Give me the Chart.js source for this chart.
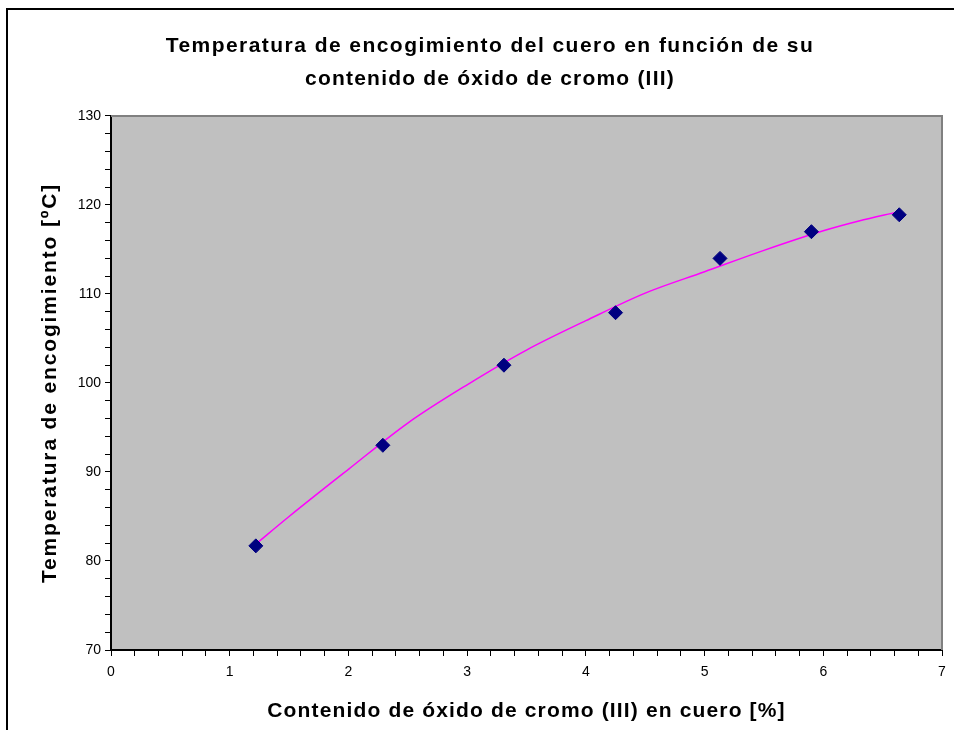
<!DOCTYPE html>
<html><head><meta charset="utf-8">
<script src="https://cdn.jsdelivr.net/npm/chart.js@4.4.1/dist/chart.umd.min.js"></script>
<style>html,body{margin:0;padding:0;background:#fff}#wrap{width:954px;height:730px;position:relative}</style>
</head><body><div id="wrap"><canvas id="c" width="954" height="730"></canvas></div>
<script>
const chromeOxide = [1.22, 2.29, 3.31, 4.25, 5.13, 5.90, 6.64];
const shrinkTemp = [81.7, 93.0, 102.0, 107.9, 114.0, 117.0, 118.9];
const trendX = [1.22, 1.5, 2.0, 2.5, 3.0, 3.5, 4.0, 4.5, 5.0, 5.5, 6.0, 6.3, 6.62];
const trendY = [81.9, 85.0, 90.3, 95.5, 99.8, 103.7, 107.0, 110.1, 112.5, 114.9, 117.1, 118.2, 119.2];
const titleLines = ['Temperatura de encogimiento del cuero en función de su', 'contenido de óxido de cromo (III)'];
const xTitle = 'Contenido de óxido de cromo (III) en cuero [%]';
const yTitle = 'Temperatura de encogimiento [ºC]';

const FONT = "'Liberation Sans', Arial, sans-serif";

const canvas = document.getElementById('c');
const ctx2d = canvas.getContext('2d');
const spacing = new Map([
  [titleLines[0], '1.45px'],
  [titleLines[1], '1.2px'],
  [xTitle, '1.15px'],
  [yTitle, '1.85px']
]);
const origFillText = ctx2d.fillText;
ctx2d.fillText = function (t, x, y, mw) {
  const ls = spacing.get(t);
  const prev = this.letterSpacing;
  if (ls) this.letterSpacing = ls;
  if (mw === undefined) origFillText.call(this, t, x, y);
  else origFillText.call(this, t, x, y, mw);
  if (ls) this.letterSpacing = prev;
};

const decor = {
  id: 'decor',
  beforeDraw(chart) {
    const ctx = chart.ctx, a = chart.chartArea;
    ctx.save();
    ctx.fillStyle = '#fff';
    ctx.fillRect(0, 0, chart.width, chart.height);
    ctx.strokeStyle = '#000';
    ctx.lineWidth = 2;
    ctx.strokeRect(7, 9, 1200, 1200);
    ctx.fillStyle = '#C0C0C0';
    ctx.fillRect(a.left, a.top, a.right - a.left, a.bottom - a.top);
    ctx.restore();
  },
  afterDatasetsDraw(chart) {
    const ctx = chart.ctx, a = chart.chartArea;
    ctx.save();
    ctx.strokeStyle = '#808080';
    ctx.lineWidth = 2;
    ctx.beginPath();
    ctx.moveTo(a.left, a.top);
    ctx.lineTo(a.right, a.top);
    ctx.lineTo(a.right, a.bottom);
    ctx.stroke();
    ctx.restore();
  }
};

new Chart(canvas, {
  type: 'scatter',
  data: {
    datasets: [
      {
        label: 'Tendencia',
        data: trendX.map((x, i) => ({x, y: trendY[i]})),
        showLine: true,
        borderColor: '#FF00FF',
        borderWidth: 1.5,
        pointRadius: 0,
        tension: 0.4,
        cubicInterpolationMode: 'monotone',
        fill: false,
        order: 2
      },
      {
        label: 'Datos',
        data: chromeOxide.map((x, i) => ({x, y: shrinkTemp[i]})),
        pointStyle: 'rectRot',
        pointRadius: 7,
        pointBackgroundColor: '#000080',
        pointBorderColor: '#000080',
        pointBorderWidth: 1,
        showLine: false,
        order: 1
      }
    ]
  },
  options: {
    responsive: false,
    animation: false,
    devicePixelRatio: 1,
    layout: { padding: { left: 38, right: 12, top: 0, bottom: 6 } },
    plugins: {
      legend: { display: false },
      tooltip: { enabled: false },
      title: {
        display: true,
        text: titleLines,
        color: '#000',
        font: { family: FONT, size: 21, weight: 'bold', lineHeight: 1.571 },
        padding: { top: 30, bottom: 20 }
      }
    },
    scales: {
      x: {
        type: 'linear',
        min: 0, max: 7,
        border: { color: '#000', width: 2 },
        grid: { drawOnChartArea: false, drawTicks: true, tickLength: 6, color: '#000', lineWidth: 1 },
        ticks: {
          stepSize: 0.2,
          autoSkip: false,
          maxRotation: 0,
          padding: 8,
          color: '#000',
          font: { family: FONT, size: 14 },
          callback: v => Math.abs(v - Math.round(v)) < 1e-6 ? String(Math.round(v)) : ''
        },
        title: {
          display: true,
          text: xTitle,
          color: '#000',
          font: { family: FONT, size: 21, weight: 'bold' },
          padding: { top: 10, bottom: 0 }
        }
      },
      y: {
        type: 'linear',
        min: 70, max: 130,
        border: { color: '#000', width: 2 },
        grid: { drawOnChartArea: false, drawTicks: true, tickLength: 6, color: '#000', lineWidth: 1 },
        ticks: {
          stepSize: 2,
          autoSkip: false,
          padding: 4,
          color: '#000',
          font: { family: FONT, size: 14 },
          callback: v => (Math.round(v) % 10 === 0) ? String(Math.round(v)) : ''
        },
        title: {
          display: true,
          text: yTitle,
          color: '#000',
          font: { family: FONT, size: 21, weight: 'bold' },
          padding: { top: 0, bottom: 13 }
        },
        afterFit(scale) { scale.width = 73; }
      }
    }
  },
  plugins: [decor]
});
</script>
</body></html>
